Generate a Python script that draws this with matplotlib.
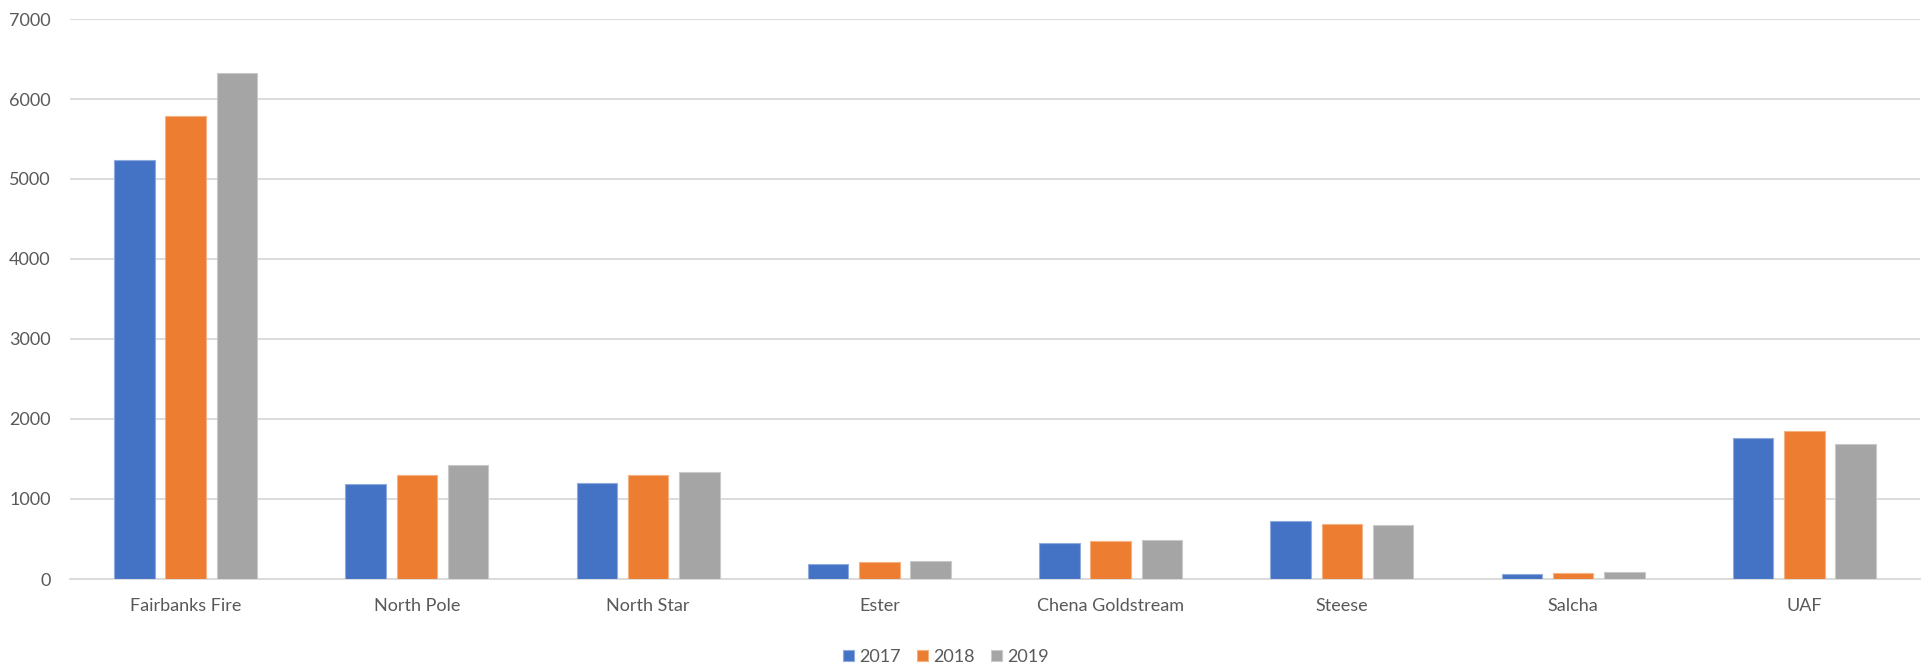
import matplotlib
matplotlib.use("Agg")
import matplotlib.pyplot as plt
import numpy as np

categories = ["Fairbanks Fire", "North Pole", "North Star", "Ester",
              "Chena Goldstream", "Steese", "Salcha", "UAF"]
years = ["2017", "2018", "2019"]
v2017 = [5240, 1184, 1205, 188, 445, 731, 67, 1762]
v2018 = [5782, 1297, 1297, 218, 474, 693, 79, 1849]
v2019 = [6322, 1423, 1339, 230, 483, 681, 92, 1686]
colors = ["#4472C4", "#ED7D31", "#A5A5A5"]
edges = ["#8FAADC", "#F4B183", "#C9C9C9"]

plt.rcParams["font.family"] = ["Lato", "DejaVu Sans"]

fig = plt.figure(figsize=(19.29, 6.69), dpi=100)
ax = fig.add_axes([70/1929, 1-579/669, 1850/1929, 560/669])

x = np.arange(len(categories))
w = 0.175
step = 0.222
for i, (vals, yr) in enumerate(zip([v2017, v2018, v2019], years)):
    ax.bar(x + (i-1)*step, vals, width=w, color=colors[i], edgecolor=edges[i],
           linewidth=0.8, label=yr, zorder=3)

ax.set_xlim(-0.5, len(categories)-0.5)
ax.set_ylim(0, 7000)
ax.set_yticks(np.arange(0, 7001, 1000))
ax.grid(axis="y", color="#D9D9D9", linewidth=1.3, zorder=0)
for s in ["top", "right", "left"]:
    ax.spines[s].set_visible(False)
ax.spines["bottom"].set_color("#D9D9D9")
ax.spines["bottom"].set_linewidth(1.3)
ax.set_xticks(x)
ax.set_xticklabels(categories)
ax.tick_params(axis="both", length=0, labelsize=13, labelcolor="#595959")
ax.tick_params(axis="x", pad=14)
ax.tick_params(axis="y", pad=14)

leg = fig.legend(loc="center", bbox_to_anchor=(0.4905, 1-657/669), ncol=3, frameon=False,
                 fontsize=13, handlelength=0.6, handleheight=0.6, handletextpad=0.3,
                 columnspacing=0.9)
for t in leg.get_texts():
    t.set_color("#595959")

fig.savefig("out.png", dpi=100)
